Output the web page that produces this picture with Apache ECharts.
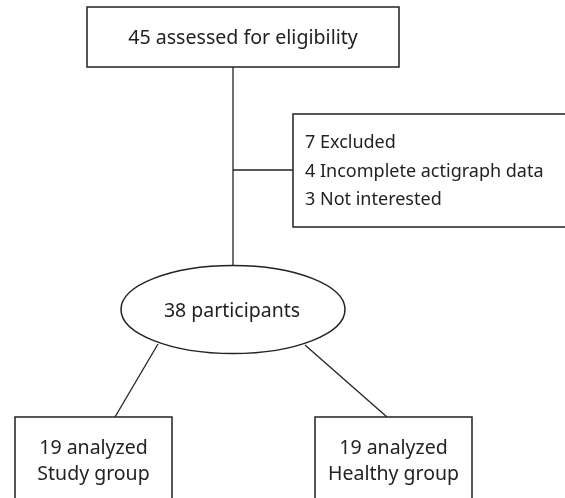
<!DOCTYPE html>
<html>
<head>
<meta charset="utf-8">
<script src="https://cdn.jsdelivr.net/npm/echarts@6/dist/echarts.min.js"></script>
<style>
html,body{margin:0;padding:0;background:#fff;}
#chart{width:565px;height:498px;}
</style>
</head>
<body>
<div id="chart"></div>
<script>
// ---- Data ----
const assessedCount = 45;
const excludedCount = 7;
const exclusionReasons = ['Incomplete actigraph data', 'Not interested'];
const exclusionCounts = [4, 3];
const participantCount = 38;
const groupNames = ['Study group', 'Healthy group'];
const groupCounts = [19, 19];

// ---- Node texts built from the data ----
const nodeTexts = [
  [assessedCount + ' assessed for eligibility'],
  [excludedCount + ' Excluded'].concat(exclusionReasons.map((r, i) => exclusionCounts[i] + ' ' + r)),
  [participantCount + ' participants'],
  [groupCounts[0] + ' analyzed', groupNames[0]],
  [groupCounts[1] + ' analyzed', groupNames[1]]
];

// ---- Layout (diagram coordinates, separate from data) ----
const nodeLayout = [
  {shape: 'rect', x0: 87, y0: 7, x1: 399, y1: 67, align: 'center', tx: 243, ty: [38], fs: 19.6},
  {shape: 'rect', x0: 293, y0: 114, x1: 568, y1: 227, align: 'left', tx: 305, ty: [143, 172, 200], fs: 18},
  {shape: 'ellipse', cx: 233, cy: 309.5, rx: 112, ry: 44, align: 'center', tx: 232, ty: [311], fs: 19.5},
  {shape: 'rect', x0: 15, y0: 417, x1: 172, y1: 502, align: 'center', tx: 93.5, ty: [448, 474], fs: 19.5},
  {shape: 'rect', x0: 315, y0: 417, x1: 472, y1: 502, align: 'center', tx: 393.5, ty: [448, 474], fs: 19.5}
];
const connectors = [
  [[233, 67], [233, 265.5]],
  [[233, 170], [293, 170]],
  [[158, 344], [115, 417]],
  [[305, 345], [387, 417]]
];

const lineColor = '#222';
const textStyleBase = {fontFamily: '"Noto Sans", sans-serif', fill: '#222'};

function renderNode(params, api) {
  const i = api.value(0);
  const L = nodeLayout[i];
  const children = [];
  if (L.shape === 'rect') {
    const p0 = api.coord([L.x0, L.y0]);
    const p1 = api.coord([L.x1, L.y1]);
    children.push({type: 'rect', shape: {x: p0[0], y: p0[1], width: p1[0] - p0[0], height: p1[1] - p0[1]},
      style: {fill: '#fff', stroke: lineColor, lineWidth: 1.5}});
  } else {
    const c = api.coord([L.cx, L.cy]);
    const e = api.coord([L.cx + L.rx, L.cy + L.ry]);
    children.push({type: 'ellipse', shape: {cx: c[0], cy: c[1], rx: e[0] - c[0], ry: e[1] - c[1]},
      style: {fill: '#fff', stroke: lineColor, lineWidth: 1.5}});
  }
  nodeTexts[i].forEach((t, k) => {
    const p = api.coord([L.tx, L.ty[k]]);
    children.push({type: 'text', x: p[0], y: p[1],
      style: Object.assign({}, textStyleBase, {text: t, fontSize: L.fs, align: L.align, verticalAlign: 'middle'})});
  });
  return {type: 'group', children: children};
}

function renderLine(params, api) {
  const c = connectors[api.value(0)];
  const a = api.coord(c[0]);
  const b = api.coord(c[1]);
  return {type: 'line', shape: {x1: a[0], y1: a[1], x2: b[0], y2: b[1]},
    style: {stroke: lineColor, lineWidth: 1.3}};
}

const chart = echarts.init(document.getElementById('chart'), null, {renderer: 'canvas'});
chart.setOption({
  backgroundColor: '#fff',
  animation: false,
  grid: {left: 0, right: 0, top: 0, bottom: 0},
  xAxis: {type: 'value', min: 0, max: 565, show: false},
  yAxis: {type: 'value', min: 0, max: 498, inverse: true, show: false},
  series: [
    {type: 'custom', renderItem: renderLine, data: connectors.map((_, i) => [i]), silent: true, clip: false, z: 1},
    {type: 'custom', renderItem: renderNode, data: nodeTexts.map((_, i) => [i]), silent: true, clip: false, z: 2}
  ]
});
</script>
</body>
</html>
